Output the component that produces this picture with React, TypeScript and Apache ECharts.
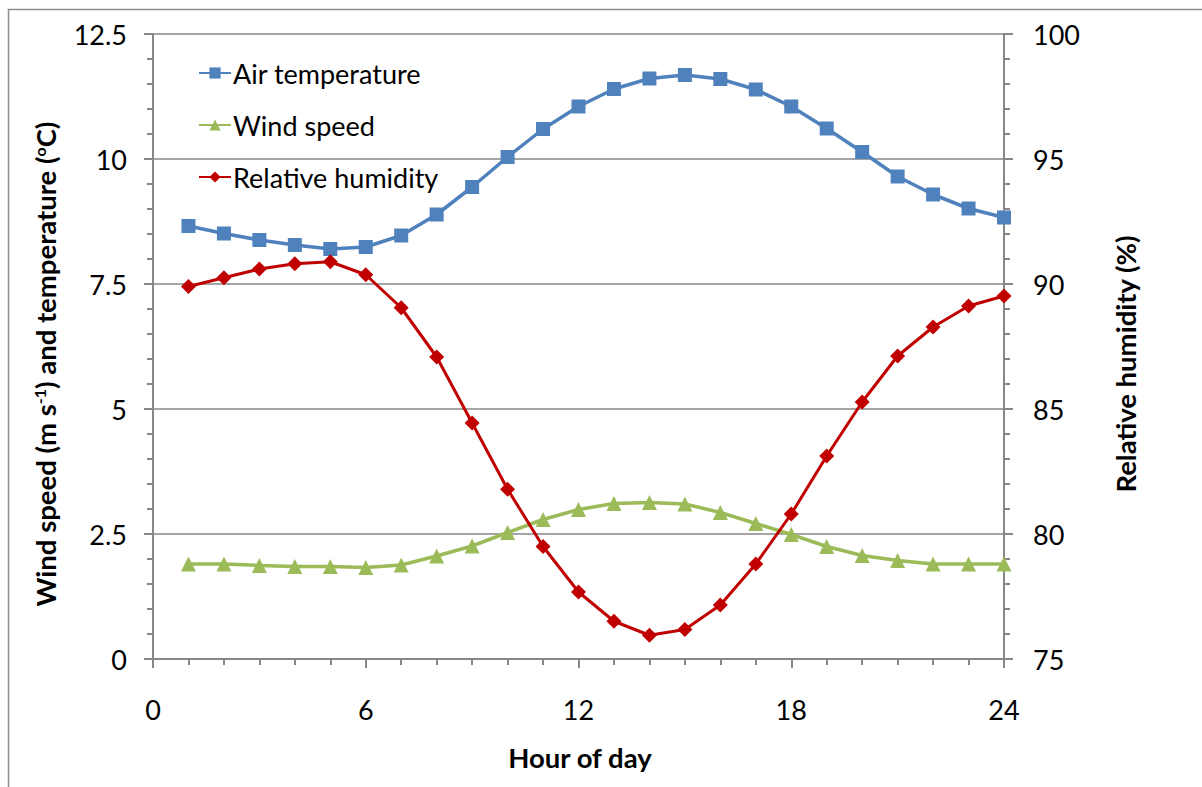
import React, { useEffect, useRef } from "react";
import * as echarts from "echarts";

// Hourly means over the day
const hours = [1, 2, 3, 4, 5, 6, 7, 8, 9, 10, 11, 12, 13, 14, 15, 16, 17, 18, 19, 20, 21, 22, 23, 24];
const airTemperature = [8.66, 8.51, 8.38, 8.28, 8.2, 8.24, 8.47, 8.89, 9.44, 10.04, 10.6, 11.05, 11.4, 11.61, 11.68, 11.6, 11.39, 11.05, 10.61, 10.14, 9.65, 9.29, 9.01, 8.83];
const windSpeed = [1.9, 1.9, 1.87, 1.85, 1.85, 1.83, 1.88, 2.06, 2.26, 2.53, 2.79, 2.99, 3.11, 3.13, 3.1, 2.93, 2.71, 2.49, 2.25, 2.07, 1.97, 1.9, 1.9, 1.9];
const relativeHumidity = [89.9, 90.25, 90.6, 90.81, 90.89, 90.37, 89.05, 87.08, 84.44, 81.79, 79.5, 77.68, 76.51, 75.95, 76.18, 77.16, 78.8, 80.8, 83.12, 85.28, 87.12, 88.28, 89.12, 89.52];

const seriesNames = ["Air temperature", "Wind speed", "Relative humidity"];
const leftTicks = [0, 2.5, 5, 7.5, 10, 12.5];

const FONT = "Lato, 'Liberation Sans', sans-serif";
const AXIS_GREY = "#878787";
const BLUE = "#4F81BD";
const GREEN = "#9BBB59";
const RED = "#C00000";

const pairs = (ys: number[]) => hours.map((h, i) => [h, ys[i]]);

export default function App() {
  const ref = useRef<HTMLDivElement>(null);

  useEffect(() => {
    if (!ref.current) return;
    const chart = echarts.init(ref.current, undefined, { renderer: "svg" });
    const tickLabel = { color: "#000", fontFamily: FONT, fontSize: 27 };
    chart.setOption({
      animation: false,
      backgroundColor: "#fff",
      grid: { left: 153, right: 198, top: 34, bottom: 128, containLabel: false },
      legend: {
        orient: "vertical",
        left: 193,
        top: 53,
        itemWidth: 32,
        itemHeight: 14,
        itemGap: 22,
        data: seriesNames,
        textStyle: { color: "#000", fontFamily: FONT, fontSize: 27, lineHeight: 30, padding: [0, 0, 0, -3] },
      },
      xAxis: {
        type: "value",
        min: 0,
        max: 24,
        interval: 6,
        axisLine: { onZero: false, lineStyle: { color: AXIS_GREY, width: 2 } },
        axisTick: { inside: false, length: 9, lineStyle: { color: AXIS_GREY, width: 2 } },
        minorTick: { show: true, splitNumber: 6, length: 6, lineStyle: { color: AXIS_GREY, width: 2 } },
        axisLabel: { ...tickLabel, margin: 37 },
        splitLine: { show: false },
      },
      yAxis: [
        {
          type: "value",
          min: leftTicks[0],
          max: leftTicks[leftTicks.length - 1],
          interval: 2.5,
          position: "left",
          axisLine: { show: true, lineStyle: { color: AXIS_GREY, width: 2 } },
          axisTick: { show: true, length: 9, lineStyle: { color: AXIS_GREY, width: 2 } },
          minorTick: { show: true, splitNumber: 5, length: 6, lineStyle: { color: AXIS_GREY, width: 2 } },
          axisLabel: { ...tickLabel, margin: 26 },
          splitLine: { show: true, lineStyle: { color: AXIS_GREY, width: 1.5 } },
        },
        {
          type: "value",
          min: 75,
          max: 100,
          interval: 5,
          position: "right",
          axisLine: { show: true, lineStyle: { color: AXIS_GREY, width: 2 } },
          axisTick: { show: true, length: 9, lineStyle: { color: AXIS_GREY, width: 2 } },
          minorTick: { show: true, splitNumber: 5, length: 6, lineStyle: { color: AXIS_GREY, width: 2 } },
          axisLabel: { ...tickLabel, margin: 29 },
          splitLine: { show: false },
        },
      ],
      series: [
        {
          name: seriesNames[0],
          type: "line",
          yAxisIndex: 0,
          data: pairs(airTemperature),
          symbol: "rect",
          symbolSize: 14,
          lineStyle: { color: BLUE, width: 3.5 },
          itemStyle: { color: BLUE },
          z: 3,
        },
        {
          name: seriesNames[1],
          type: "line",
          yAxisIndex: 0,
          data: pairs(windSpeed),
          symbol: "triangle",
          symbolSize: 15,
          lineStyle: { color: GREEN, width: 3.5 },
          itemStyle: { color: GREEN },
          z: 2,
        },
        {
          name: seriesNames[2],
          type: "line",
          yAxisIndex: 1,
          data: pairs(relativeHumidity),
          symbol: "diamond",
          symbolSize: 15,
          lineStyle: { color: RED, width: 3 },
          itemStyle: { color: RED },
          z: 4,
        },
      ],
      graphic: [
        {
          type: "rect",
          shape: { x: 8.5, y: 9.5, width: 1300, height: 900 },
          style: { fill: "none", stroke: "#8c8c8c", lineWidth: 1.5 },
          silent: true,
          z: -10,
        },
        {
          type: "text",
          x: 45,
          y: 364,
          rotation: Math.PI / 2,
          style: {
            text: "Wind speed (m s{sup|-1}) and temperature ({sup|o}C)",
            fill: "#000",
            font: `bold 27.5px ${FONT}`,
            align: "center",
            verticalAlign: "middle",
            rich: {
              sup: { fontSize: 16, fontWeight: "bold", fontFamily: FONT, verticalAlign: "top", fill: "#000" },
            },
          },
        },
        {
          type: "text",
          x: 1125,
          y: 364,
          rotation: Math.PI / 2,
          style: {
            text: "Relative humidity (%)",
            fill: "#000",
            font: `bold 27.5px ${FONT}`,
            align: "center",
            verticalAlign: "middle",
          },
        },
        {
          type: "text",
          x: 580,
          y: 757,
          style: {
            text: "Hour of day",
            fill: "#000",
            font: `bold 27.5px ${FONT}`,
            align: "center",
            verticalAlign: "middle",
          },
        },
      ],
    });
    return () => chart.dispose();
  }, []);

  return (
    <div
      ref={ref}
      style={{ position: "absolute", left: 0, top: 0, width: 1202, height: 787 }}
    />
  );
}
